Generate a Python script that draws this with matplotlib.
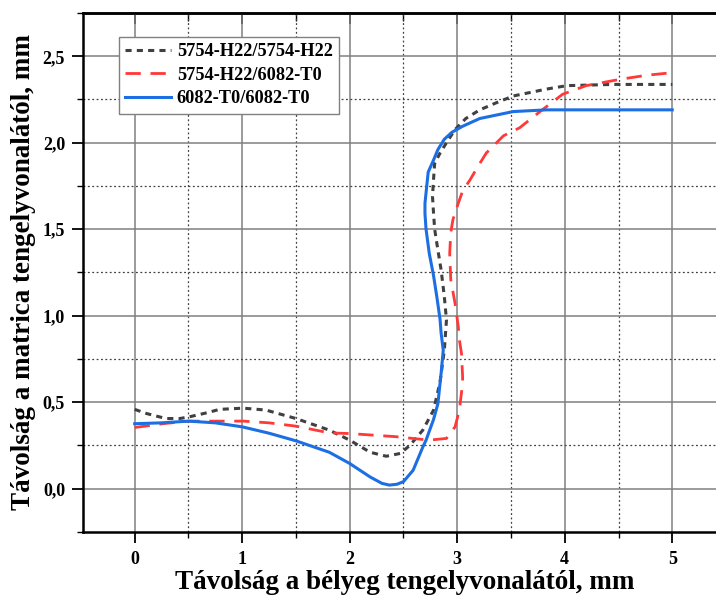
import matplotlib
matplotlib.use("Agg")
import matplotlib.pyplot as plt
from matplotlib.ticker import MultipleLocator, FuncFormatter

plt.rcParams['font.family'] = ['Liberation Serif', 'DejaVu Serif']
plt.rcParams['font.weight'] = 'bold'

# 5754-H22/5754-H22 (dotted, dark grey)
x_hh = [0.0, 0.11, 0.29, 0.42, 0.51, 0.67, 0.79, 1.01, 1.22, 1.5, 1.81, 2.0, 2.19, 2.34,
        2.47, 2.56, 2.68, 2.78, 2.84, 2.88, 2.90, 2.88, 2.85, 2.82, 2.79, 2.78, 2.77,
        2.78, 2.79, 2.84, 2.90, 2.98, 3.08, 3.21, 3.36, 3.52, 3.83, 4.02, 4.45, 5.0]
y_hh = [0.458, 0.434, 0.405, 0.405, 0.415, 0.438, 0.458, 0.465, 0.454, 0.405, 0.338,
        0.28, 0.21, 0.187, 0.203, 0.25, 0.338, 0.454, 0.615, 0.80, 0.975, 1.11, 1.265,
        1.38, 1.50, 1.59, 1.69, 1.79, 1.88, 1.94, 2.0, 2.076, 2.14, 2.19, 2.23, 2.27,
        2.31, 2.33, 2.337, 2.337]

# 5754-H22/6082-T0 (dashed, red)
x_ht = [0.0, 0.29, 0.51, 0.79, 1.01, 1.25, 1.5, 1.81, 2.0, 2.43, 2.74, 2.90, 2.98, 3.02,
        3.05, 3.05, 3.04, 3.02, 3.01, 2.98, 2.94, 2.93, 2.94, 2.96, 3.01, 3.05, 3.12,
        3.19, 3.27, 3.43, 3.58, 3.77, 3.98, 4.20, 4.51, 4.76, 5.0]
y_ht = [0.353, 0.377, 0.39, 0.39, 0.39, 0.38, 0.361, 0.322, 0.318, 0.30, 0.28, 0.29,
        0.357, 0.454, 0.608, 0.647, 0.78, 0.86, 0.936, 1.07, 1.207, 1.36, 1.48, 1.555,
        1.65, 1.72, 1.786, 1.86, 1.94, 2.04, 2.086, 2.18, 2.28, 2.33, 2.366, 2.39, 2.405]

# 6082-T0/6082-T0 (solid, blue)
x_tt = [0.0, 0.25, 0.5, 0.75, 1.0, 1.25, 1.5, 1.81, 2.0, 2.19, 2.30, 2.37, 2.44, 2.50,
        2.59, 2.68, 2.71, 2.78, 2.82, 2.85, 2.87, 2.85, 2.84, 2.81, 2.78, 2.74, 2.71,
        2.70, 2.70, 2.73, 2.78, 2.82, 2.88, 2.95, 3.05, 3.21, 3.52, 3.83, 5.0]
y_tt = [0.375, 0.38, 0.39, 0.38, 0.357, 0.32, 0.276, 0.21, 0.145, 0.067, 0.03, 0.02,
        0.025, 0.04, 0.106, 0.24, 0.28, 0.40, 0.49, 0.666, 0.80, 0.90, 0.98, 1.11, 1.23,
        1.36, 1.50, 1.59, 1.65, 1.83, 1.90, 1.96, 2.02, 2.06, 2.095, 2.14, 2.18, 2.19,
        2.19]

labels = ['5754-H22/5754-H22', '5754-H22/6082-T0', '6082-T0/6082-T0']

fig = plt.figure(figsize=(7.16, 6.05), dpi=100)
ax = fig.add_axes([0.116, 0.121, 0.898, 0.8575])

ax.plot(x_hh, y_hh, color='#404040', lw=2.2, dashes=(2.0, 1.7), label=labels[0])
ax.plot(x_ht, y_ht, color='#ff3838', lw=2.0, dashes=(5.5, 3.5), label=labels[1])
ax.plot(x_tt, y_tt, color='#1c6fe3', lw=2.2, label=labels[2])

ax.set_xlim(-0.48, 5.5)
ax.set_ylim(-0.25, 2.75)
ax.xaxis.set_major_locator(MultipleLocator(1))
ax.xaxis.set_minor_locator(MultipleLocator(0.5))
ax.yaxis.set_major_locator(MultipleLocator(0.5))
ax.yaxis.set_minor_locator(MultipleLocator(0.25))
ax.yaxis.set_major_formatter(FuncFormatter(lambda v, p: f'{v:.1f}'.replace('.', ',')))
ax.xaxis.set_major_formatter(FuncFormatter(lambda v, p: f'{v:.0f}'))

ax.grid(which='major', color='#808080', lw=1.1, ls='-')
ax.grid(which='minor', color='#404040', lw=0.9, ls=(0, (1.5, 2)))
ax.set_axisbelow(True)

for s in ax.spines.values():
    s.set_linewidth(1.8)
ax.tick_params(which='major', direction='out', length=8, width=1.3, labelsize=13)
ax.tick_params(which='minor', direction='out', length=4.5, width=1.0)
ax.tick_params(axis='x', which='major', pad=6)
ax.tick_params(axis='y', which='major', pad=5)

top = ax.secondary_xaxis('top')
top.xaxis.set_major_locator(MultipleLocator(1))
top.xaxis.set_minor_locator(MultipleLocator(0.5))
top.tick_params(which='major', direction='in', length=8, width=1.2, labeltop=False)
top.tick_params(which='minor', direction='in', length=6, width=1.0)
top.spines['top'].set_linewidth(1.8)

ax.set_xlabel('Távolság a bélyeg tengelyvonalától, mm', fontsize=19.5, fontweight='bold', labelpad=1)
ax.set_ylabel('Távolság a matrica tengelyvonalától, mm', fontsize=19.5, fontweight='bold', labelpad=5)

leg = ax.legend(loc='upper left', bbox_to_anchor=(0.056, 0.954), borderaxespad=0,
                fancybox=False, framealpha=1, edgecolor='#808080', fontsize=13.2,
                handlelength=2.5, handletextpad=0.3, labelspacing=0.35, borderpad=0.35)
leg.get_frame().set_linewidth(1.0)

fig.savefig('out.png', dpi=100)
